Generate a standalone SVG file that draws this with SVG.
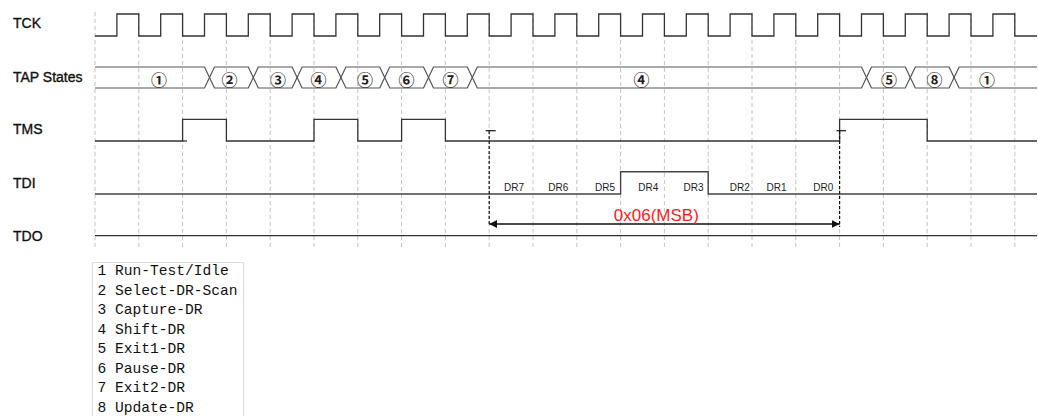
<svg xmlns="http://www.w3.org/2000/svg" width="1038" height="416" viewBox="0 0 1038 416">
<style>
.bg{fill:#ffffff}
.grid{stroke:#c4c4c4;stroke-width:1;stroke-dasharray:4 3;fill:none}
.sig{fill:none;stroke:#333;stroke-width:1.3;stroke-linejoin:miter}
.bus{fill:none;stroke:#555;stroke-width:1.2}
.tdi{fill:none;stroke:#444;stroke-width:1.4}
.lbl{font-family:"Liberation Sans",Arial,sans-serif;font-size:14px;fill:#111;stroke:#111;stroke-width:0.35}
.st{font-family:"Noto Sans CJK SC","DejaVu Sans",sans-serif;font-size:16px;font-weight:bold;fill:#2a1a1a;text-anchor:middle}
.dr{font-family:"Liberation Sans",Arial,sans-serif;font-size:10px;fill:#222;text-anchor:middle}
.mark{stroke:#111;stroke-width:1.2;stroke-dasharray:3 2;fill:none}
.tick{stroke:#111;stroke-width:1.2;fill:none}
.arr{stroke:#111;stroke-width:1.3;fill:none}
.red{font-family:"Liberation Sans",Arial,sans-serif;font-size:17px;fill:#ff1a1a;text-anchor:middle}
.leg{font-family:"Liberation Mono","Courier New",monospace;font-size:14.6px;fill:#111}
</style>
<defs>
<marker id="ah" viewBox="0 0 8 8" refX="8" refY="4" markerWidth="8" markerHeight="8" markerUnits="userSpaceOnUse" orient="auto-start-reverse">
<path d="M0,0 L8,4 L0,8 Z" fill="#111"/>
</marker>
</defs>
<rect class="bg" x="0" y="0" width="1038" height="416"/>

<g id="grid">
<path class="grid" d="M95,12V248 M138.8,12V248 M182.6,12V248 M226.4,12V248 M270.2,12V248 M314,12V248 M357.8,12V248 M401.6,12V248 M445.4,12V248 M489.2,12V248 M533,12V248 M576.8,12V248 M620.6,12V248 M664.4,12V248 M708.2,12V248 M752,12V248 M795.8,12V248 M839.6,12V248 M883.4,12V248 M927.2,12V248 M971,12V248 M1014.8,12V248"/>
</g>

<g id="labels">
<text class="lbl" x="13" y="28">TCK</text>
<text class="lbl" x="13" y="81.5">TAP States</text>
<text class="lbl" x="13" y="134">TMS</text>
<text class="lbl" x="13" y="187.5">TDI</text>
<text class="lbl" x="13" y="241">TDO</text>
</g>

<g id="tck">
<path class="sig" d="M95,36 H116.9 V14 H138.8 V36 H160.7 V14 H182.6 V36 H204.5 V14 H226.4 V36 H248.3 V14 H270.2 V36 H292.1 V14 H314 V36 H335.9 V14 H357.8 V36 H379.7 V14 H401.6 V36 H423.5 V14 H445.4 V36 H467.3 V14 H489.2 V36 H511.1 V14 H533 V36 H554.9 V14 H576.8 V36 H598.7 V14 H620.6 V36 H642.5 V14 H664.4 V36 H686.3 V14 H708.2 V36 H730.1 V14 H752 V36 H773.9 V14 H795.8 V36 H817.7 V14 H839.6 V36 H861.5 V14 H883.4 V36 H905.3 V14 H927.2 V36 H949.1 V14 H971 V36 H992.9 V14 H1014.8 V36 H1037"/>
</g>

<g id="tap-states">
<path class="bus" d="M95,67 H204.5 L209.5,77.5 L204.5,88 H95"/>
<path class="bus" d="M209.5,77.5 L214.5,67 H248.3 L253.3,77.5 L248.3,88 H214.5 Z"/>
<path class="bus" d="M253.3,77.5 L258.3,67 H292.1 L297.1,77.5 L292.1,88 H258.3 Z"/>
<path class="bus" d="M297.1,77.5 L302.1,67 H335.9 L340.9,77.5 L335.9,88 H302.1 Z"/>
<path class="bus" d="M340.9,77.5 L345.9,67 H379.7 L384.7,77.5 L379.7,88 H345.9 Z"/>
<path class="bus" d="M384.7,77.5 L389.7,67 H423.5 L428.5,77.5 L423.5,88 H389.7 Z"/>
<path class="bus" d="M428.5,77.5 L433.5,67 H467.3 L472.3,77.5 L467.3,88 H433.5 Z"/>
<path class="bus" d="M472.3,77.5 L477.3,67 H861.5 L866.5,77.5 L861.5,88 H477.3 Z"/>
<path class="bus" d="M866.5,77.5 L871.5,67 H905.3 L910.3,77.5 L905.3,88 H871.5 Z"/>
<path class="bus" d="M910.3,77.5 L915.3,67 H949.1 L954.1,77.5 L949.1,88 H915.3 Z"/>
<path class="bus" d="M1037,67 H959.1 L954.1,77.5 L959.1,88 H1037"/>
<text class="st" x="159" y="86">①</text>
<text class="st" x="229.5" y="86">②</text>
<text class="st" x="278" y="86">③</text>
<text class="st" x="318.5" y="86">④</text>
<text class="st" x="365" y="86">⑤</text>
<text class="st" x="406.5" y="86">⑥</text>
<text class="st" x="450.5" y="86">⑦</text>
<text class="st" x="641.5" y="86">④</text>
<text class="st" x="889" y="86">⑤</text>
<text class="st" x="934.5" y="86">⑧</text>
<text class="st" x="987" y="86">①</text>
</g>

<g id="tms">
<path class="sig" d="M95,141 H182.6 V119.3 H226.4 V141 H314 V119.3 H357.8 V141 H401.6 V119.3 H445.4 V141 H839.6 V119.3 H927.2 V141 H1037"/>
<path class="sig" d="M182.6,141 H187"/>
</g>

<g id="tdi">
<path class="tdi" d="M95,194 H620.6 V171.7 H708.2 V194 H1037"/>
<text class="dr" x="514" y="191">DR7</text>
<text class="dr" x="558.3" y="191">DR6</text>
<text class="dr" x="605" y="191">DR5</text>
<text class="dr" x="648.3" y="191">DR4</text>
<text class="dr" x="693.5" y="191">DR3</text>
<text class="dr" x="739.8" y="191">DR2</text>
<text class="dr" x="776.5" y="191">DR1</text>
<text class="dr" x="823.2" y="191">DR0</text>
</g>

<g id="tdo">
<path class="sig" d="M95,235.7 H1037"/>
</g>

<g id="connectors">
<path class="mark" d="M489.2,131 V226"/>
<path class="mark" d="M839.6,131 V227"/>
<path class="tick" d="M485.7,130.7 H495.7"/>
<path class="tick" d="M836.5,130.7 H846"/>
<line class="arr" x1="489.2" y1="224" x2="839.6" y2="224" marker-start="url(#ah)" marker-end="url(#ah)"/>
<text class="red" x="656.3" y="220.7">0x06(MSB)</text>
</g>

<g id="legend">
<rect x="92.5" y="262.5" width="151" height="160" fill="#ffffff" stroke="#dcdcdc" stroke-width="1"/>
<text class="leg" x="97.5" y="275">1 Run-Test/Idle</text>
<text class="leg" x="97.5" y="294.5">2 Select-DR-Scan</text>
<text class="leg" x="97.5" y="314">3 Capture-DR</text>
<text class="leg" x="97.5" y="333.5">4 Shift-DR</text>
<text class="leg" x="97.5" y="353">5 Exit1-DR</text>
<text class="leg" x="97.5" y="372.5">6 Pause-DR</text>
<text class="leg" x="97.5" y="392">7 Exit2-DR</text>
<text class="leg" x="97.5" y="411.5">8 Update-DR</text>
</g>
</svg>
